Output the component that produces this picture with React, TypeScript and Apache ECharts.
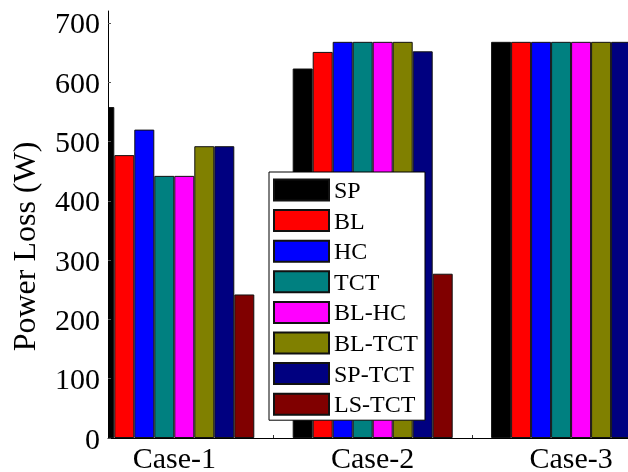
import React, { useEffect, useRef } from "react";
import * as echarts from "echarts";

const categories = ["Case-1", "Case-2", "Case-3"];
const seriesNames = ["SP", "BL", "HC", "TCT", "BL-HC", "BL-TCT", "SP-TCT", "LS-TCT"];
const seriesColors = ["#000000", "#FF0000", "#0000FF", "#008080", "#FF00FF", "#808000", "#000080", "#800000"];
const spValues = [558, 623, 668];
const blValues = [477, 651, 668];
const hcValues = [520, 668, 668];
const tctValues = [442, 668, 668];
const blhcValues = [442, 668, 668];
const bltctValues = [492, 668, 668];
const sptctValues = [492, 652, 668];
const lstctValues = [242, 277, 668];
const yTicks = [0, 100, 200, 300, 400, 500, 600, 700];

const allValues = [spValues, blValues, hcValues, tctValues, blhcValues, bltctValues, sptctValues, lstctValues];
const FONT = "'Times New Roman', 'Liberation Serif', serif";

export default function App() {
  const ref = useRef<HTMLDivElement>(null);
  useEffect(() => {
    if (!ref.current) return;
    const chart = echarts.init(ref.current, undefined, { renderer: "svg" });
    const series = seriesNames.map((name, i) => ({
      name,
      type: "bar",
      barWidth: 20,
      barGap: "0%",
      z: 2,
      itemStyle: { color: seriesColors[i], borderColor: "#111", borderWidth: 1 },
      data: allValues[i].map((v, j) => [j + 1, v]),
    }));
    chart.setOption({
      animation: false,
      grid: { left: 108, right: 0, top: 11, bottom: 31, containLabel: false },
      graphic: [
        {
          type: "rect",
          z: 5,
          shape: { x: 80, y: 0, width: 28, height: 441 },
          style: { fill: "#ffffff" },
          silent: true,
        },
      ],
      legend: {
        orient: "vertical",
        left: 269,
        top: 172,
        z: 20,
        padding: [6, 7, 4, 4],
        itemWidth: 55,
        itemHeight: 21,
        itemGap: 6.6,
        backgroundColor: "#ffffff",
        borderColor: "#000000",
        borderWidth: 1,
        borderRadius: 0,
        selectedMode: false,
        icon: "rect",
        textStyle: { fontFamily: FONT, fontSize: 24, color: "#000", lineHeight: 24 },
        data: seriesNames,
      },
      xAxis: {
        type: "value",
        min: 0.6658,
        max: 3.2868,
        z: 10,
        splitLine: { show: false },
        axisLine: { show: true, onZero: false, lineStyle: { color: "#000", width: 1 } },
        axisTick: { show: true, inside: true, length: 3, customValues: [1.5, 2.5], lineStyle: { color: "#333" } },
        axisLabel: {
          customValues: [1, 2, 3],
          formatter: (v: number) => categories[Math.round(v) - 1] ?? "",
          fontFamily: FONT,
          fontSize: 30,
          color: "#000",
          margin: 4,
        },
      },
      yAxis: {
        type: "value",
        min: 0,
        max: 720,
        interval: 100,
        z: 10,
        splitLine: { show: false },
        axisLine: { show: true, onZero: false, lineStyle: { color: "#000", width: 1 } },
        axisTick: { show: true, inside: true, length: 3, customValues: yTicks, lineStyle: { color: "#555" } },
        axisLabel: {
          customValues: yTicks,
          formatter: (v: number) => String(v),
          fontFamily: FONT,
          fontSize: 30,
          color: "#000",
          margin: 8,
        },
        name: "Power Loss (W)",
        nameLocation: "middle",
        nameGap: 68,
        nameTextStyle: { fontFamily: FONT, fontSize: 32, color: "#000", padding: [0, 44, 0, 0] },
      },
      series,
    });
    return () => chart.dispose();
  }, []);
  return <div ref={ref} style={{ position: "fixed", left: 0, top: 0, width: 628, height: 472 }} />;
}
